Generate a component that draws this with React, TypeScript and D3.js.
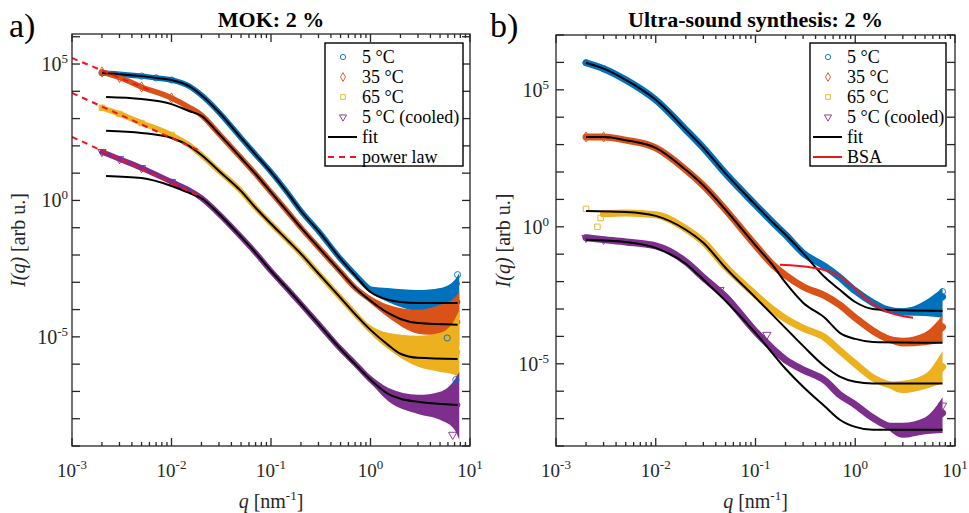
import React, { useEffect, useRef } from 'react';
import * as d3 from 'd3';

const COLORS = ['#0072BD', '#D95319', '#EDB120', '#7E2F8E'];
const SERIES = ['5 °C', '35 °C', '65 °C', '5 °C (cooled)'];
const FONT = '"Liberation Serif", "Times New Roman", serif';

// ---- a) MOK: 2 %  — [q (nm^-1), I(q)]
const mok5 = [[0.002, 4.7e4], [0.005, 3.6e4], [0.007, 3.1e4], [0.01, 2.6e4], [0.015, 1.55e4], [0.02, 7.2e3], [0.03, 1.7e3], [0.05, 195], [0.07, 48], [0.1, 11], [0.15, 1.7], [0.2, 0.41], [0.3, 0.075], [0.5, 7.2e-3], [0.7, 1.9e-3], [1, 5.3e-4], [1.5, 3.2e-4], [3, 2.1e-4], [7.5, 1.9e-4]];
const mok35 = [[0.002, 5.1e4], [0.003, 3.2e4], [0.005, 1.44e4], [0.01, 5.7e3], [0.015, 2.6e3], [0.02, 1.35e3], [0.03, 275], [0.05, 36], [0.07, 9.3], [0.1, 2.0], [0.15, 0.35], [0.2, 0.1], [0.3, 0.019], [0.5, 2.4e-3], [0.7, 6.3e-4], [1, 2.3e-4], [1.5, 8.9e-5], [2, 5.4e-5], [3, 4.2e-5], [7.5, 3.5e-5]];
const mok65 = [[0.002, 2.5e3], [0.003, 1.48e3], [0.005, 690], [0.01, 250], [0.015, 107], [0.02, 46], [0.03, 12], [0.05, 2.2], [0.07, 0.54], [0.1, 0.14], [0.15, 0.032], [0.2, 0.011], [0.3, 2.1e-3], [0.5, 2.7e-4], [0.7, 7.0e-5], [1, 1.8e-5], [1.5, 7.1e-6], [2, 3.3e-6], [3, 2.8e-6], [7.5, 2.8e-6]];
const mokCooled = [[0.002, 60], [0.003, 33], [0.005, 15.5], [0.01, 4.8], [0.015, 2.4], [0.02, 1.23], [0.03, 0.32], [0.05, 0.046], [0.07, 0.012], [0.1, 2.6e-3], [0.15, 5.2e-4], [0.2, 1.6e-4], [0.3, 3.0e-5], [0.5, 3.6e-6], [0.7, 1.05e-6], [1, 2.7e-7], [1.5, 8.2e-8], [2, 5.4e-8], [3, 4.2e-8], [7.5, 3.2e-8]];

const mokFit5 = [[0.002, 4.7e4], [0.005, 3.6e4], [0.007, 3.1e4], [0.01, 2.6e4], [0.015, 1.55e4], [0.02, 7.2e3], [0.03, 1.7e3], [0.05, 195], [0.07, 48], [0.1, 11], [0.15, 1.7], [0.2, 0.41], [0.3, 0.075], [0.5, 7.2e-3], [0.7, 1.8e-3], [1, 4.4e-4], [1.5, 2.3e-4], [2, 1.9e-4], [3, 1.76e-4], [7.5, 1.76e-4]];
const mokFit35 = [[0.0022, 6.2e3], [0.005, 5.2e3], [0.01, 3.4e3], [0.015, 1.9e3], [0.02, 1.26e3], [0.03, 275], [0.05, 36], [0.07, 9.3], [0.1, 2.0], [0.15, 0.35], [0.2, 0.1], [0.3, 0.019], [0.5, 2.4e-3], [0.7, 6.3e-4], [1, 2.1e-4], [1.5, 7.5e-5], [2, 4.5e-5], [3, 3.2e-5], [7.5, 2.8e-5]];
const mokFit65 = [[0.0022, 355], [0.005, 297], [0.01, 195], [0.015, 100], [0.02, 46], [0.03, 12], [0.05, 2.2], [0.07, 0.54], [0.1, 0.14], [0.15, 0.032], [0.2, 0.011], [0.3, 2.1e-3], [0.5, 2.7e-4], [0.7, 6.8e-5], [1, 1.8e-5], [1.5, 5.1e-6], [2, 2.4e-6], [3, 1.7e-6], [7.5, 1.55e-6]];
const mokFitCooled = [[0.0022, 7.9], [0.005, 6.6], [0.01, 3.4], [0.015, 1.9], [0.02, 1.2], [0.03, 0.32], [0.05, 0.046], [0.07, 0.012], [0.1, 2.6e-3], [0.15, 5.2e-4], [0.2, 1.6e-4], [0.3, 3.0e-5], [0.5, 3.6e-6], [0.7, 1.0e-6], [1, 2.7e-7], [1.5, 8.2e-8], [2, 5.4e-8], [3, 4.2e-8], [7.5, 3.2e-8]];

// spread of the scattered points at high q: [q, low, high]
const mokNoise5 = [[0.7, 1.6e-3, 2.2e-3], [1, 4.2e-4, 7e-4], [1.5, 1.9e-4, 6.2e-4], [3, 8.3e-5, 5.2e-4], [5, 6.4e-5, 6.2e-4], [7, 5.9e-5, 1.2e-3], [7.8, 5.0e-5, 2.2e-3]];
const mokNoise35 = [[0.7, 5.5e-4, 7.2e-4], [1, 1.7e-4, 3.1e-4], [1.5, 5.2e-5, 1.5e-4], [3, 1.3e-5, 9.8e-5], [5, 1.1e-5, 1.5e-4], [7, 7.7e-6, 2.7e-4], [7.8, 4.7e-6, 4.5e-4]];
const mokNoise65 = [[0.7, 6e-5, 8e-5], [1, 1.3e-5, 2.6e-5], [1.5, 3.6e-6, 1.4e-5], [3, 8e-7, 1.1e-5], [5, 5.2e-7, 1.4e-5], [7, 4.1e-7, 4.2e-5], [7.8, 2.1e-7, 9.8e-5]];
const mokNoiseCooled = [[0.7, 9e-7, 1.2e-6], [1, 2.1e-7, 3.8e-7], [1.5, 4.5e-8, 1.35e-7], [3, 1.5e-8, 7.5e-8], [5, 9.1e-9, 9.8e-8], [7, 3.9e-9, 2.7e-7], [7.8, 1.7e-9, 5.2e-7]];

// power-law extrapolations (red dashed)
const mokPower35 = [[0.001, 1.66e5], [0.006, 1.1e4]];
const mokPower65 = [[0.001, 8.7e3], [0.0203, 60]];
const mokPowerCooled = [[0.001, 215], [0.018, 1.6]];

// stray points: [series, q, I]
const mokOutliers = [[0, 7.5, 1.9e-3], [0, 7.3, 9e-4], [0, 5.9, 9.1e-6], [0, 7.2, 2.7e-7], [3, 6.7, 2.6e-9]];

// ---- b) Ultra-sound synthesis: 2 %
const us5 = [[0.002, 9.7e5], [0.003, 5.9e5], [0.005, 2.3e5], [0.01, 4.3e4], [0.02, 3.5e3], [0.03, 760], [0.05, 89], [0.1, 6.3], [0.15, 1.4], [0.2, 0.51], [0.3, 0.11], [0.5, 0.035], [0.7, 0.014], [1, 4.6e-3], [1.5, 1.7e-3], [2, 1.0e-3], [3, 8.0e-4], [5, 1.1e-3], [7.5, 2.8e-3]];
const us35 = [[0.002, 1.9e3], [0.003, 1.9e3], [0.005, 1.45e3], [0.01, 760], [0.02, 120], [0.03, 32], [0.05, 4.2], [0.1, 0.21], [0.15, 0.04], [0.2, 0.017], [0.3, 6.5e-3], [0.5, 3.0e-3], [0.7, 1.4e-3], [1, 4.8e-4], [1.5, 1.6e-4], [2, 8.9e-5], [3, 6.3e-5], [5, 8.1e-5], [7.5, 2.2e-4]];
const us65 = [[0.003, 3.0], [0.005, 3.2], [0.01, 2.75], [0.02, 0.85], [0.03, 0.28], [0.05, 0.035], [0.1, 3.3e-3], [0.15, 9.3e-4], [0.2, 4.4e-4], [0.3, 2.0e-4], [0.5, 8.9e-5], [0.7, 3.0e-5], [1, 1.0e-5], [1.5, 3.1e-6], [2, 1.9e-6], [3, 1.45e-6], [5, 2.2e-6], [7.5, 7.8e-6]];
const usCooled = [[0.002, 0.4], [0.003, 0.34], [0.005, 0.28], [0.01, 0.2], [0.02, 0.053], [0.03, 0.014], [0.05, 2.8e-3], [0.1, 1.5e-4], [0.2, 1.4e-5], [0.3, 6.0e-6], [0.5, 2.4e-6], [0.7, 7.4e-7], [1, 3.2e-7], [1.5, 1.07e-7], [2, 5.9e-8], [3, 3.9e-8], [5, 5.9e-8], [7.5, 1.6e-7]];

const usFit5 = [[0.002, 9.7e5], [0.003, 5.9e5], [0.005, 2.3e5], [0.01, 4.3e4], [0.02, 3.5e3], [0.03, 760], [0.05, 89], [0.1, 6.3], [0.15, 1.4], [0.2, 0.51], [0.3, 0.11], [0.5, 0.014], [0.7, 5.0e-3], [1, 1.8e-3], [1.5, 1.0e-3], [2, 9.3e-4], [7.5, 8.5e-4]];
const usFit35 = [[0.002, 1.9e3], [0.003, 1.9e3], [0.005, 1.45e3], [0.01, 760], [0.02, 120], [0.03, 32], [0.05, 4.2], [0.1, 0.21], [0.15, 0.038], [0.2, 9.1e-3], [0.3, 1.7e-3], [0.5, 4.6e-4], [0.7, 1.35e-4], [1, 8.1e-5], [1.5, 6.3e-5], [7.5, 5.9e-5]];
const usFit65 = [[0.002, 3.8], [0.005, 3.5], [0.01, 2.5], [0.02, 0.78], [0.03, 0.26], [0.05, 0.032], [0.1, 2.6e-3], [0.2, 2.0e-4], [0.3, 4.5e-5], [0.5, 7.8e-6], [0.7, 3.4e-6], [1, 2.2e-6], [1.5, 1.9e-6], [7.5, 1.9e-6]];
const usFitCooled = [[0.002, 0.34], [0.005, 0.28], [0.01, 0.17], [0.02, 0.045], [0.03, 0.012], [0.05, 2.0e-3], [0.1, 1.35e-4], [0.2, 6.6e-6], [0.3, 1.45e-6], [0.5, 2.7e-7], [0.7, 9.1e-8], [1, 5.0e-8], [1.5, 3.9e-8], [7.5, 3.9e-8]];

const usNoise5 = [[2, 8.5e-4, 1.15e-3], [3, 5.8e-4, 1.05e-3], [5, 5.6e-4, 2.0e-3], [7.5, 4.8e-4, 6e-3]];
const usNoise35 = [[2, 7.5e-5, 1.05e-4], [3, 4.3e-5, 9e-5], [5, 4.8e-5, 1.4e-4], [7.5, 6e-5, 6e-4]];
const usNoise65 = [[2, 1.6e-6, 2.2e-6], [3, 8.5e-7, 2.4e-6], [5, 1.2e-6, 4.2e-6], [7.5, 2e-6, 3e-5]];
const usNoiseCooled = [[2, 5e-8, 7e-8], [3, 2e-8, 7e-8], [5, 2.7e-8, 1.1e-7], [7.5, 3e-8, 6e-7]];

// BSA form factor (red solid)
const usBSA = [[0.176, 0.041], [0.377, 0.032], [0.656, 0.018], [0.95, 6.5e-3], [1.31, 2.2e-3], [2.08, 8.0e-4], [3.8, 4.8e-4]];

const usOutliers = [[2, 0.002, 4.5], [2, 0.0026, 1.0], [2, 0.0028, 2.1], [3, 0.044, 5e-3], [3, 0.13, 1.15e-4], [0, 7.5, 4.3e-3], [3, 7.5, 3e-7]];

const xTickExps = [-3, -2, -1, 0, 1];
const yLabelExps = [-5, 0, 5];

const panels = [
	{
		id: 'a', letter: 'a)', title: 'MOK: 2 %',
		left: 72, right: 470, top: 34, bottom: 446, yDomain: [1e-9, Math.pow(10, 6.1)],
		data: [mok5, mok35, mok65, mokCooled],
		fits: [mokFit5, mokFit35, mokFit65, mokFitCooled],
		noise: [mokNoise5, mokNoise35, mokNoise65, mokNoiseCooled],
		extras: [mokPower35, mokPower65, mokPowerCooled], extraDashed: true, extraLabel: 'power law',
		outliers: mokOutliers, markerMaxQ: 0.012, bandWidth: 5.5,
		letterX: 9, yTitleX: 25, yLabelEnd: 68, legendX: 325, legendW: 138
	},
	{
		id: 'b', letter: 'b)', title: 'Ultra-sound synthesis: 2 %',
		left: 556, right: 955, top: 35, bottom: 446, yDomain: [1e-8, 1e7],
		data: [us5, us35, us65, usCooled],
		fits: [usFit5, usFit35, usFit65, usFitCooled],
		noise: [usNoise5, usNoise35, usNoise65, usNoiseCooled],
		extras: [usBSA], extraDashed: false, extraLabel: 'BSA',
		outliers: usOutliers, markerMaxQ: 0.0032, bandWidth: 7,
		letterX: 490, yTitleX: 510, yLabelEnd: 549, legendX: 810, legendW: 136
	}
];

const SYMBOLS = [d3.symbolCircle, d3.symbolDiamond, d3.symbolSquare, d3.symbolTriangle];

function marker(g, i, cx, cy, size) {
	g.append('path')
		.attr('d', d3.symbol().type(SYMBOLS[i]).size(size)())
		.attr('transform', `translate(${cx},${cy})${i === 3 ? ' rotate(180)' : ''}`)
		.attr('fill', 'none')
		.attr('stroke', COLORS[i])
		.attr('stroke-width', 0.9);
}

function powText(sel, e) {
	sel.append('tspan').text('10');
	sel.append('tspan').attr('dy', -8).attr('font-size', 13).text(String(e));
}

function drawPanel(svg, p) {
	const x = d3.scaleLog().domain([1e-3, 1e1]).range([p.left, p.right]);
	const y = d3.scaleLog().domain(p.yDomain).range([p.bottom, p.top]);
	const g = svg.append('g');
	const clipId = 'clip-' + p.id;
	g.append('clipPath').attr('id', clipId).append('rect')
		.attr('x', p.left).attr('y', p.top)
		.attr('width', p.right - p.left).attr('height', p.bottom - p.top);
	const plot = g.append('g').attr('clip-path', `url(#${clipId})`);

	const line = d3.line().x(d => x(d[0])).y(d => y(d[1])).curve(d3.curveMonotoneX);
	const band = d3.area().x(d => x(d[0])).y0(d => y(d[1])).y1(d => y(d[2])).curve(d3.curveMonotoneX);

	// measured data
	p.data.forEach((s, i) => {
		plot.append('path').datum(p.noise[i]).attr('d', band).attr('fill', COLORS[i]);
		plot.append('path').datum(s).attr('d', line)
			.attr('fill', 'none').attr('stroke', COLORS[i])
			.attr('stroke-width', p.bandWidth).attr('stroke-linecap', 'round');
		s.filter(d => d[0] <= p.markerMaxQ).forEach(d => marker(plot, i, x(d[0]), y(d[1]), 30));
	});
	p.outliers.forEach(d => marker(plot, d[0], x(d[1]), y(d[2]), 30));

	// fits
	p.fits.forEach(f => {
		plot.append('path').datum(f).attr('d', line)
			.attr('fill', 'none').attr('stroke', '#000').attr('stroke-width', 2);
	});

	// power law / BSA
	p.extras.forEach(e => {
		plot.append('path').datum(e).attr('d', line)
			.attr('fill', 'none').attr('stroke', '#f0141e').attr('stroke-width', 2)
			.attr('stroke-dasharray', p.extraDashed ? '6,5' : null);
	});

	// box + ticks
	const ax = g.append('g').attr('stroke', '#262626').attr('stroke-width', 1.3);
	ax.append('rect').attr('x', p.left).attr('y', p.top)
		.attr('width', p.right - p.left).attr('height', p.bottom - p.top).attr('fill', 'none');
	x.ticks().forEach(t => {
		const lt = Math.log10(t);
		const major = Math.abs(lt - Math.round(lt)) < 1e-6;
		const len = major ? 8 : 4;
		const xx = x(t);
		ax.append('line').attr('x1', xx).attr('x2', xx).attr('y1', p.bottom).attr('y2', p.bottom - len);
		ax.append('line').attr('x1', xx).attr('x2', xx).attr('y1', p.top).attr('y2', p.top + len);
	});
	const [ylo, yhi] = p.yDomain;
	d3.range(Math.ceil(Math.log10(ylo)), Math.floor(Math.log10(yhi)) + 1).forEach(e => {
		const yy = y(Math.pow(10, e));
		ax.append('line').attr('x1', p.left).attr('x2', p.left + 8).attr('y1', yy).attr('y2', yy);
		ax.append('line').attr('x1', p.right).attr('x2', p.right - 8).attr('y1', yy).attr('y2', yy);
	});

	const txt = g.append('g').attr('font-family', FONT).attr('fill', '#262626');
	xTickExps.forEach(e => {
		const t = txt.append('text').attr('x', x(Math.pow(10, e))).attr('y', 477)
			.attr('text-anchor', 'middle').attr('font-size', 19);
		powText(t, e);
	});
	yLabelExps.forEach(e => {
		const t = txt.append('text').attr('x', p.yLabelEnd).attr('y', y(Math.pow(10, e)) + 7)
			.attr('text-anchor', 'end').attr('font-size', 20);
		powText(t, e);
	});

	// axis titles
	const xt = txt.append('text').attr('x', (p.left + p.right) / 2).attr('y', 508)
		.attr('text-anchor', 'middle').attr('font-size', 20);
	xt.append('tspan').attr('font-style', 'italic').text('q');
	xt.append('tspan').text(' [nm');
	xt.append('tspan').attr('dy', -8).attr('font-size', 13).text('-1');
	xt.append('tspan').attr('dy', 8).text(']');

	const yt = txt.append('text')
		.attr('transform', `translate(${p.yTitleX},${(p.top + p.bottom) / 2}) rotate(-90)`)
		.attr('text-anchor', 'middle').attr('font-size', 20);
	yt.append('tspan').attr('font-style', 'italic').text('I(q)');
	yt.append('tspan').text(' [arb u.]');

	txt.append('text').attr('x', (p.left + p.right) / 2).attr('y', 27)
		.attr('text-anchor', 'middle').attr('font-size', 22).attr('font-weight', 'bold')
		.attr('fill', '#000').text(p.title);
	txt.append('text').attr('x', p.letterX).attr('y', 37)
		.attr('font-size', 34).attr('fill', '#000').text(p.letter);

	// legend
	const lg = g.append('g');
	const lx = p.legendX, ly = 43, lh = 123;
	lg.append('rect').attr('x', lx).attr('y', ly).attr('width', p.legendW).attr('height', lh)
		.attr('fill', '#fff').attr('stroke', '#000').attr('stroke-width', 1.4);
	const labels = [...SERIES, 'fit', p.extraLabel];
	labels.forEach((lab, k) => {
		const cy = ly + 14 + k * 20;
		if (k < 4) {
			marker(lg, k, lx + 18, cy, 22);
		} else {
			lg.append('line').attr('x1', lx + 3).attr('x2', lx + 32).attr('y1', cy).attr('y2', cy)
				.attr('stroke', k === 4 ? '#000' : '#f0141e').attr('stroke-width', 2)
				.attr('stroke-dasharray', k === 5 && p.extraDashed ? '6,5' : null);
		}
		lg.append('text').attr('x', lx + 37).attr('y', cy + 6)
			.attr('font-family', FONT).attr('font-size', 18).attr('fill', '#000').text(lab);
	});
}

export default function App() {
	const ref = useRef(null);
	useEffect(() => {
		const svg = d3.select(ref.current);
		svg.selectAll('*').remove();
		panels.forEach(p => drawPanel(svg, p));
	}, []);
	return (
		<svg ref={ref} width={969} height={513}
			style={{ position: 'absolute', left: 0, top: 0, background: '#fff' }} />
	);
}
